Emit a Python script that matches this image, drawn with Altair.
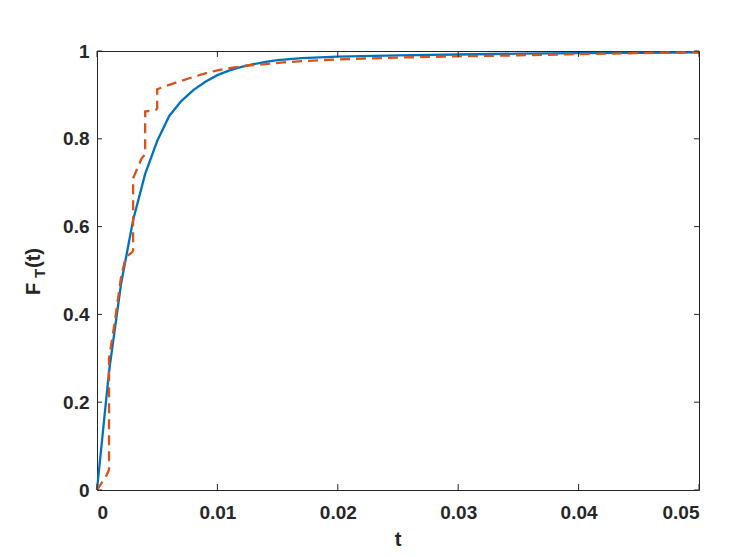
import altair as alt
import pandas as pd

# ---- data ----
blue_t = [0, 0.001, 0.002, 0.003, 0.004, 0.005, 0.006, 0.007, 0.008, 0.009, 0.010,
          0.011, 0.012, 0.013, 0.014, 0.015, 0.017, 0.020, 0.025, 0.030, 0.035,
          0.040, 0.045, 0.050]
blue_F = [0, 0.27, 0.47, 0.615, 0.72, 0.795, 0.852, 0.886, 0.911, 0.930, 0.945,
          0.956, 0.964, 0.970, 0.975, 0.979, 0.984, 0.987, 0.990, 0.992, 0.994,
          0.995, 0.996, 0.997]

emp_t = [0, 0.0008, 0.001, 0.001, 0.0015, 0.002, 0.0024, 0.0029, 0.003, 0.003,
         0.0037, 0.004, 0.004, 0.0049, 0.005, 0.005, 0.006, 0.007, 0.008, 0.009,
         0.010, 0.011, 0.0125, 0.014, 0.0155, 0.017, 0.020, 0.025, 0.030, 0.035,
         0.040, 0.045, 0.050]
emp_F = [0, 0.034, 0.046, 0.30, 0.387, 0.486, 0.531, 0.541, 0.545, 0.71,
         0.755, 0.765, 0.862, 0.866, 0.87, 0.913, 0.923, 0.932, 0.941, 0.949,
         0.956, 0.961, 0.967, 0.970, 0.974, 0.977, 0.981, 0.985, 0.988, 0.990,
         0.993, 0.995, 0.997]

x_ticks = [0, 0.01, 0.02, 0.03, 0.04, 0.05]
y_ticks = [0, 0.2, 0.4, 0.6, 0.8, 1.0]

W, H = 602, 439
TXT = "#262626"
FONT = "Liberation Sans"

blue_df = pd.DataFrame({"t": blue_t, "F": blue_F, "i": range(len(blue_t))})
emp_df = pd.DataFrame({"t": emp_t, "F": emp_F, "i": range(len(emp_t))})
xt_df = pd.DataFrame({"v": x_ticks})
yt_df = pd.DataFrame({"v": y_ticks})
one = pd.DataFrame({"a": [0]})

xscale = alt.Scale(domain=[0, 0.05], nice=False, zero=False)
yscale = alt.Scale(domain=[0, 1], nice=False, zero=False)

xaxis = alt.Axis(values=x_ticks, format=".2~f", title=None, grid=False, ticks=False,
                 domain=False, labelFontSize=19, labelFont=FONT, labelFontWeight="bold",
                 labelColor=TXT, labelPadding=13)
yaxis = alt.Axis(values=y_ticks, format=".1~f", title=None, grid=False, ticks=False,
                 domain=False, labelFontSize=19, labelFont=FONT, labelFontWeight="bold",
                 labelColor=TXT, labelPadding=8)

blue = alt.Chart(blue_df).mark_line(color="#0072BD", strokeWidth=2.3).encode(
    x=alt.X("t:Q", scale=xscale, axis=xaxis),
    y=alt.Y("F:Q", scale=yscale, axis=yaxis),
    order="i:Q",
)
emp = alt.Chart(emp_df).mark_line(color="#D95319", strokeWidth=2.3,
                                  strokeDash=[10, 6]).encode(
    x=alt.X("t:Q", scale=xscale),
    y=alt.Y("F:Q", scale=yscale),
    order="i:Q",
)

tick_style = dict(color=TXT, strokeWidth=1)
xt_bot = alt.Chart(xt_df).mark_rule(**tick_style).encode(
    x=alt.X("v:Q", scale=xscale), y=alt.value(H), y2=alt.value(H - 6))
xt_top = alt.Chart(xt_df).mark_rule(**tick_style).encode(
    x=alt.X("v:Q", scale=xscale), y=alt.value(0), y2=alt.value(6))
yt_left = alt.Chart(yt_df).mark_rule(**tick_style).encode(
    y=alt.Y("v:Q", scale=yscale), x=alt.value(0), x2=alt.value(5))
yt_right = alt.Chart(yt_df).mark_rule(**tick_style).encode(
    y=alt.Y("v:Q", scale=yscale), x=alt.value(W - 5), x2=alt.value(W))

def title_text(txt, x, y, size, angle=None):
    kw = dict(align="left", baseline="alphabetic", font=FONT, fontWeight="bold",
              fontSize=size, color=TXT)
    if angle is not None:
        kw["angle"] = angle
    return alt.Chart(one).mark_text(**kw).encode(
        x=alt.value(x), y=alt.value(y), text=alt.value(txt))

t_F = title_text("F", -57, 244, 20, 270)
t_T = title_text("T", -52, 227, 15, 270)
t_p = title_text("(t)", -57, 217, 20, 270)
t_x = alt.Chart(one).mark_text(align="center", baseline="alphabetic", font=FONT,
                               fontWeight="bold", fontSize=20, color=TXT).encode(
    x=alt.value(W / 2), y=alt.value(H + 56), text=alt.value("t"))

chart = alt.layer(blue, emp, xt_bot, xt_top, yt_left, yt_right,
                  t_F, t_T, t_p, t_x).properties(
    width=W, height=H,
    background="white",
    autosize=alt.AutoSizeParams(type="none"),
    padding={"left": 89, "top": 43, "right": 40, "bottom": 59},
).configure_view(stroke=TXT, strokeWidth=1)

chart.save("out.html", embed_options={"renderer": "svg", "actions": False})
